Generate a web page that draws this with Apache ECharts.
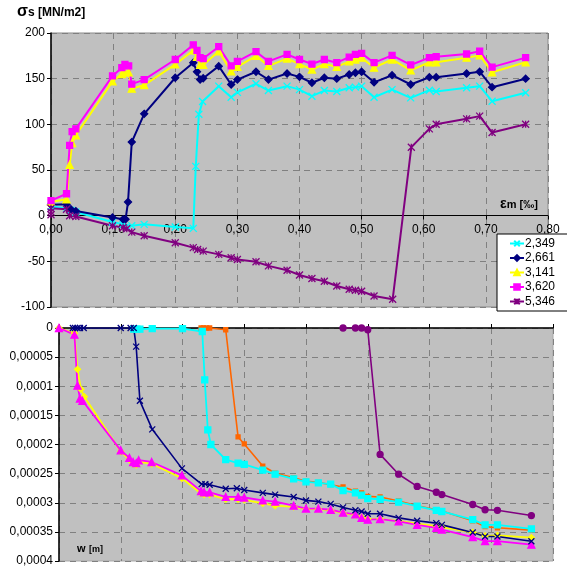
<!DOCTYPE html>
<html>
<head>
<meta charset="utf-8">
<script src="https://cdn.jsdelivr.net/npm/echarts@6/dist/echarts.min.js"></script>
<style>
  html, body { margin: 0; padding: 0; background: #fff; }
  #chart { width: 567px; height: 571px; }
</style>
</head>
<body>
<div id="chart"></div>
<script>
// upper chart: sigma_s [MN/m2] against eps_m [‰]
const legendNames = ['2,349', '2,661', '3,141', '3,620', '5,346']
const topTicksY = [-100, 200, 50]

const s2349 = [[0,10],[0.025,8],[0.032,6],[0.04,4],[0.099,-7],[0.116,-9.5],[0.13,-11],[0.15,-9.5],[0.20,-12.4],[0.229,-13.9],[0.233,54],[0.238,111],[0.244,125],[0.27,141.8],[0.29,129.7],[0.30,135],[0.33,144.4],[0.35,137],[0.38,141.8],[0.40,138],[0.42,130.8],[0.44,137],[0.46,136],[0.48,140],[0.49,140.7],[0.50,141.8],[0.52,129.7],[0.549,138],[0.579,129],[0.609,137.4],[0.62,136],[0.669,140],[0.69,141.8],[0.71,125.3],[0.764,134.5]]
const s2661 = [[0,12],[0.025,12.5],[0.032,7],[0.04,5],[0.099,-2],[0.116,-4],[0.12,-4],[0.124,15],[0.13,80.6],[0.15,111.5],[0.20,151],[0.229,167.5],[0.235,157.6],[0.24,149],[0.245,150.5],[0.27,163.7],[0.29,143.6],[0.30,149],[0.33,157.6],[0.35,149],[0.38,155.7],[0.40,152],[0.42,145.5],[0.44,151],[0.46,150],[0.48,154.6],[0.49,156.5],[0.50,157.6],[0.52,146],[0.549,153.8],[0.579,143.6],[0.609,151.6],[0.62,151.6],[0.669,155.7],[0.69,157.6],[0.71,140.7],[0.764,150]]
const s3141 = [[0,15],[0.025,18],[0.03,55.7],[0.034,79.5],[0.04,88],[0.099,147],[0.114,155],[0.119,157],[0.125,157],[0.13,139],[0.15,143],[0.20,165.6],[0.229,181],[0.235,174],[0.24,165],[0.245,165],[0.27,180],[0.29,158],[0.30,163],[0.33,175],[0.35,164],[0.38,172],[0.40,166],[0.42,160],[0.44,166],[0.46,163],[0.48,169],[0.49,171],[0.50,173],[0.52,162],[0.549,171],[0.579,159],[0.609,168],[0.62,168],[0.669,173],[0.69,175.5],[0.71,157],[0.764,168]]
const s3620 = [[0,16.5],[0.025,24],[0.03,77],[0.034,92],[0.04,95],[0.099,153],[0.114,162],[0.119,165.6],[0.125,164],[0.13,144],[0.15,149],[0.20,171],[0.229,187],[0.235,181],[0.24,173],[0.245,172],[0.27,185],[0.29,164],[0.30,169],[0.33,179.5],[0.35,169],[0.38,176.6],[0.40,171],[0.42,166],[0.44,171],[0.46,167.5],[0.48,173.6],[0.49,176.6],[0.50,177.7],[0.52,167.5],[0.549,175.5],[0.579,165],[0.609,173],[0.62,174],[0.669,177],[0.69,180],[0.71,162.6],[0.764,173]]
const s5346 = [[0,1],[0,4],[0,8],[0.025,7],[0.03,0],[0.04,-1],[0.099,-11],[0.116,-13],[0.122,-14.3],[0.13,-18],[0.15,-22],[0.20,-29.6],[0.229,-35],[0.236,-37],[0.245,-38.8],[0.27,-42.4],[0.29,-46],[0.30,-48],[0.33,-50.5],[0.35,-55],[0.38,-59.7],[0.40,-65],[0.42,-68.8],[0.44,-71.8],[0.46,-77],[0.48,-80.5],[0.49,-81.6],[0.50,-82.7],[0.52,-88],[0.55,-91.5],[0.58,75],[0.609,95],[0.62,100],[0.669,106],[0.69,109],[0.71,91],[0.764,100]]

// lower chart: w [m] (axis inverted)
const wNavy = [[0.0225,0],[0.026,0],[0.03,0],[0.034,0],[0.04,0],[0.10,0],[0.116,0],[0.121,0],[0.125,3.2e-5],[0.131,12.5e-5],[0.151,17.4e-5],[0.199,24.1e-5],[0.231,26.8e-5],[0.237,26.8e-5],[0.244,26.9e-5],[0.27,27.6e-5],[0.288,27.5e-5],[0.30,27.8e-5],[0.33,28.3e-5],[0.35,28.6e-5],[0.38,29e-5],[0.40,29.6e-5],[0.42,29.8e-5],[0.44,30.2e-5],[0.46,30.8e-5],[0.48,31.3e-5],[0.49,31.5e-5],[0.50,31.9e-5],[0.52,31.9e-5],[0.55,32.6e-5],[0.58,33.1e-5],[0.611,33.5e-5],[0.62,33.8e-5],[0.67,35.1e-5],[0.69,35.8e-5],[0.71,35.8e-5],[0.765,36.6e-5]]
const wCyan = [[0.121,0.2e-5],[0.126,0.2e-5],[0.131,0.2e-5],[0.151,0.1e-5],[0.2,0.1e-5],[0.232,0.6e-5],[0.236,8.9e-5],[0.241,17.5e-5],[0.246,20e-5],[0.27,22.6e-5],[0.29,23.2e-5],[0.30,23.4e-5],[0.33,24.4e-5],[0.35,25.1e-5],[0.38,25.9e-5],[0.40,26.4e-5],[0.42,26.6e-5],[0.44,26.8e-5],[0.46,27.9e-5],[0.48,28.3e-5],[0.49,28.7e-5],[0.50,29.3e-5],[0.52,29.4e-5],[0.55,29.9e-5],[0.58,30.6e-5],[0.611,31.3e-5],[0.62,31.5e-5],[0.67,32.9e-5],[0.69,33.8e-5],[0.71,33.8e-5],[0.765,34.5e-5]]
const wYellow = [[0,0],[0.025,0.9e-5],[0.03,7.1e-5],[0.0355,10.5e-5],[0.041,11.8e-5],[0.1,21.2e-5],[0.114,22.6e-5],[0.12,23.3e-5],[0.125,23.5e-5],[0.129,23e-5],[0.15,23.3e-5],[0.199,25.8e-5],[0.23,28.4e-5],[0.235,28.6e-5],[0.244,28.6e-5],[0.27,29.4e-5],[0.29,29.4e-5],[0.30,29.5e-5],[0.33,30.1e-5],[0.35,30.5e-5],[0.38,30.7e-5],[0.40,31.1e-5],[0.42,31.1e-5],[0.44,31.3e-5],[0.46,31.8e-5],[0.48,32.1e-5],[0.49,32.5e-5],[0.50,32.8e-5],[0.52,32.8e-5],[0.55,33.1e-5],[0.58,33.6e-5],[0.611,34e-5],[0.62,34.2e-5],[0.67,35.1e-5],[0.69,35.7e-5],[0.71,35.6e-5],[0.765,36e-5]]
const wMagenta = [[0,0],[0.025,1.15e-5],[0.03,9.9e-5],[0.034,12.1e-5],[0.038,12.5e-5],[0.1,21e-5],[0.114,22.3e-5],[0.12,23e-5],[0.125,23.2e-5],[0.129,22.7e-5],[0.15,23e-5],[0.199,25.3e-5],[0.23,28e-5],[0.235,28.2e-5],[0.244,28.2e-5],[0.27,29e-5],[0.29,29e-5],[0.30,29.1e-5],[0.33,29.6e-5],[0.35,29.8e-5],[0.38,30.5e-5],[0.40,31e-5],[0.42,31e-5],[0.44,31.2e-5],[0.46,31.7e-5],[0.48,32e-5],[0.49,32.6e-5],[0.50,32.9e-5],[0.52,32.8e-5],[0.55,33.2e-5],[0.58,33.8e-5],[0.611,34.3e-5],[0.62,34.6e-5],[0.67,35.9e-5],[0.69,36.6e-5],[0.71,36.6e-5],[0.765,37.2e-5]]
const wOrange = [[0.23,0],[0.234,0],[0.239,0],[0.244,0],[0.27,0.3e-5],[0.29,18.7e-5],[0.30,19.9e-5],[0.33,23.7e-5],[0.35,24.9e-5],[0.38,25.7e-5],[0.40,26.3e-5],[0.42,26.5e-5],[0.44,26.9e-5],[0.46,27.3e-5],[0.48,28e-5],[0.49,28.3e-5],[0.50,28.9e-5],[0.52,29e-5],[0.55,29.7e-5],[0.58,30.5e-5],[0.611,31.2e-5],[0.62,31.4e-5],[0.67,33.1e-5],[0.69,34.1e-5],[0.71,34.3e-5],[0.765,34.7e-5]]
const wPurple = [[0.46,0],[0.48,0],[0.49,0],[0.50,0.3e-5],[0.52,21.7e-5],[0.55,25.1e-5],[0.58,27.2e-5],[0.611,28.2e-5],[0.62,28.6e-5],[0.67,30.3e-5],[0.69,31.2e-5],[0.71,31.3e-5],[0.765,32.2e-5]]

const FONT = '"Liberation Sans", Arial, sans-serif'
const CROSS = 'path://M0,0L10,10M10,0L0,10'
const STAR = 'path://M0,0L10,10M10,0L0,10M5,0L5,10'
const dash = { type: [6, 5], color: '#808080', width: 1 }

const comma = v => String(Number(v.toPrecision(6))).replace('.', ',')

const line = (name, data, color, symbol, size, grid, width) => ({
  name: name,
  type: 'line',
  xAxisIndex: grid,
  yAxisIndex: grid,
  data: data,
  symbol: symbol,
  symbolSize: size,
  showAllSymbol: true,
  lineStyle: { color: color, width: width },
  itemStyle: { color: color, borderColor: color, borderWidth: 1.3 },
  emphasis: { disabled: true },
  animation: false
})

// top plot: 200 at y=33, -100 at y=307 -> zero line 91.3 px above the bottom edge
const TOP_H = 274
const zeroOffset = -TOP_H * (0 - topTicksY[0]) / (topTicksY[1] - topTicksY[0])

const chart = echarts.init(document.getElementById('chart'))

chart.setOption({
  backgroundColor: '#fff',
  textStyle: { fontFamily: FONT },
  grid: [
    { left: 51, right: 19, top: 33, height: TOP_H, show: true, backgroundColor: '#c0c0c0', borderColor: '#8a8a8a', borderWidth: 1 },
    { left: 59, right: 14, top: 328, height: 233, show: true, backgroundColor: '#c0c0c0', borderColor: '#a8a8a8', borderWidth: 1 }
  ],
  xAxis: [
    {
      gridIndex: 0, type: 'value', min: 0, max: 0.8, interval: 0.1,
      position: 'bottom', offset: zeroOffset,
      axisLine: { onZero: false, lineStyle: { color: '#000', width: 1 } },
      axisTick: { show: true, length: 4, lineStyle: { color: '#000' } },
      axisLabel: { color: '#000', fontSize: 12, margin: 8, formatter: v => v.toFixed(2).replace('.', ',') },
      splitLine: { show: true, lineStyle: dash }
    },
    {
      gridIndex: 1, type: 'value', min: 0, max: 0.8, interval: 0.1, position: 'top',
      axisLine: { onZero: false, lineStyle: { color: '#000', width: 1.5 } },
      axisTick: { show: true, length: 4, inside: false, lineStyle: { color: '#000' } },
      axisLabel: { show: false },
      splitLine: { show: true, lineStyle: dash }
    }
  ],
  yAxis: [
    {
      gridIndex: 0, type: 'value', min: topTicksY[0], max: topTicksY[1], interval: topTicksY[2],
      axisLine: { show: true, onZero: false, lineStyle: { color: '#000', width: 1.5 } },
      axisTick: { show: true, length: 4, lineStyle: { color: '#000' } },
      axisLabel: { color: '#000', fontSize: 12, margin: 6 },
      splitLine: { show: true, lineStyle: dash }
    },
    {
      gridIndex: 1, type: 'value', min: 0, max: 0.0004, interval: 0.00005, inverse: true,
      axisLine: { show: true, onZero: false, lineStyle: { color: '#000', width: 1.5 } },
      axisTick: { show: true, length: 4, lineStyle: { color: '#000' } },
      axisLabel: { color: '#000', fontSize: 12, margin: 6, formatter: comma },
      splitLine: { show: true, lineStyle: dash }
    }
  ],
  legend: {
    data: legendNames,
    orient: 'vertical',
    left: 497, top: 234,
    backgroundColor: '#fff',
    borderColor: '#000', borderWidth: 1, borderRadius: 0,
    padding: [3, 14, 3, 12],
    itemGap: 1.5, itemWidth: 14, itemHeight: 7,
    textStyle: { fontFamily: FONT, fontSize: 12, color: '#000', lineHeight: 13, padding: [0, 0, 0, -4] },
    selectedMode: false
  },
  series: [
    line(legendNames[0], s2349, '#00ffff', CROSS, 7, 0, 2),
    line(legendNames[1], s2661, '#000080', 'diamond', 7, 0, 2),
    line(legendNames[2], s3141, '#ffff00', 'triangle', 7, 0, 2),
    line(legendNames[3], s3620, '#ff00ff', 'rect', 6, 0, 2),
    line(legendNames[4], s5346, '#800080', STAR, 7, 0, 2),

    line('w_orange', wOrange, '#ff6600', 'rect', 4, 1, 1.6),
    line('w_cyan', wCyan, '#00ffff', 'rect', 6, 1, 1.8),
    line('w_yellow', wYellow, '#ffff00', 'diamond', 6, 1, 1.8),
    line('w_magenta', wMagenta, '#ff00ff', 'triangle', 7, 1, 1.8),
    line('w_navy', wNavy, '#000080', CROSS, 6, 1, 1.6),
    line('w_purple', wPurple, '#800080', 'circle', 6, 1, 1.6)
  ],
  graphic: [
    {
      type: 'text', left: 17, top: 4,
      style: {
        text: '{g|σ}{t|s [MN/m2]}',
        rich: {
          g: { fontFamily: FONT, fontSize: 16, fontWeight: 'bold', fill: '#000' },
          t: { fontFamily: FONT, fontSize: 12, fontWeight: 'bold', fill: '#000', padding: [2, 0, 0, 0] }
        }
      }
    },
    {
      type: 'text', left: 500, top: 197,
      style: {
        text: '{g|ε}{m|m [‰]}',
        rich: {
          g: { fontFamily: FONT, fontSize: 14, fontWeight: 'bold', fill: '#000' },
          m: { fontFamily: FONT, fontSize: 11, fontWeight: 'bold', fill: '#000', padding: [2, 0, 0, 0] }
        }
      }
    },
    {
      type: 'text', left: 77, top: 543,
      style: {
        text: '{w|w} {m|[m]}',
        rich: {
          w: { fontFamily: FONT, fontSize: 11, fontWeight: 'bold', fill: '#000' },
          m: { fontFamily: FONT, fontSize: 9, fontWeight: 'bold', fill: '#000', padding: [2, 0, 0, 0] }
        }
      }
    }
  ]
})
</script>
</body>
</html>
